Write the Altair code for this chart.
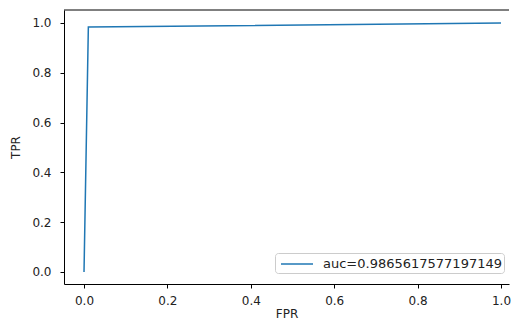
import altair as alt
import pandas as pd

fpr = [0.0, 0.0104, 1.0]
tpr = [0.0, 0.9835, 1.0]
label = "auc=0.9865617577197149"
x_ticks = [0.0, 0.2, 0.4, 0.6, 0.8, 1.0]
y_ticks = [0.0, 0.2, 0.4, 0.6, 0.8, 1.0]

df = pd.DataFrame({"FPR": fpr, "TPR": tpr, "series": [label] * len(fpr), "order": list(range(len(fpr)))})

W, H = 445, 274
FONT = "DejaVu Sans"

axis_common = dict(grid=False, format=".1f", tickSize=4, tickColor="black", domainColor="black",
                   domainWidth=1, tickWidth=1, labelFont=FONT, labelFontSize=12, labelColor="#222",
                   titleFont=FONT, titleFontSize=12, titleFontWeight="normal", titleColor="#222")

line = alt.Chart(df).mark_line(strokeWidth=1.5).encode(
    x=alt.X("FPR:Q", title="FPR",
            scale=alt.Scale(domain=[-0.048, 1.0192], nice=False, zero=False),
            axis=alt.Axis(values=x_ticks, labelPadding=7, titlePadding=2, **axis_common)),
    y=alt.Y("TPR:Q", title="TPR",
            scale=alt.Scale(domain=[-0.0482, 1.0522], nice=False, zero=False),
            axis=alt.Axis(values=y_ticks, labelPadding=9, titlePadding=9, **axis_common)),
    color=alt.Color("series:N", scale=alt.Scale(range=["#1f77b4"]),
                    legend=alt.Legend(title=None, orient="none", legendX=211, legendY=243,
                                      symbolType="M-2,0H2", symbolSize=256, symbolStrokeWidth=1.5,
                                      symbolOffset=11,
                                      labelFont=FONT, labelFontSize=13, labelColor="#222",
                                      labelLimit=400, labelOffset=17, strokeColor="#ccc",
                                      fillColor="white", cornerRadius=3, padding=2)),
    order="order:Q",
)

top = alt.Chart(pd.DataFrame({"a": [0]})).mark_rule(color="black", strokeWidth=1).encode(
    x=alt.value(0), x2=alt.value(W), y=alt.value(0)
)

chart = alt.layer(line, top).properties(
    width=W, height=H,
    autosize=alt.AutoSizeParams(type="none"),
    padding={"left": 56, "top": 2, "right": 2, "bottom": 40},
    background="white",
).configure_view(stroke=None)

chart.save("out.html", embed_options={"renderer": "svg", "actions": False})
